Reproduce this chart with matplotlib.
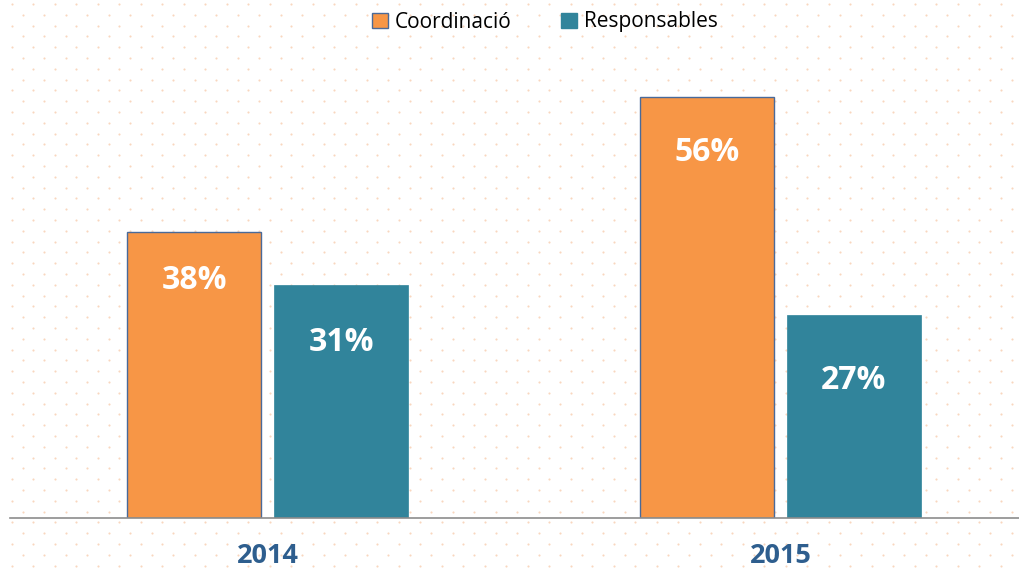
import matplotlib
matplotlib.use("Agg")
import matplotlib.pyplot as plt
import numpy as np
from matplotlib.patches import Patch

years = ["2014", "2015"]
series_names = ["Coordinació", "Responsables"]
coordinacio = [38, 56]
responsables = [31, 27]

# label offsets below bar top, in pixels (layout only)
coord_label_px = [48, 55]
resp_label_px = [58, 65]

W, H = 1019, 572
fig = plt.figure(figsize=(W / 100, H / 100), dpi=100)
fig.patch.set_facecolor("white")

# dotted background pattern
bg = fig.add_axes([0, 0, 1, 1], zorder=0)
bg.set_xlim(0, W)
bg.set_ylim(H, 0)
bg.axis("off")
xs, ys = [], []
dy = 10.8
dx = 21.5
row = 0
y = 4.0
while y < H:
    off = 0 if row % 2 == 0 else dx / 2
    x = 12 + off
    while x < W:
        xs.append(x)
        ys.append(y)
        x += dx
    y += dy
    row += 1
bg.scatter(xs, ys, s=2.4, color="#F9D6BE", linewidths=0)

ax = fig.add_axes([10 / W, 54 / H, (W - 10) / W, 451 / H], zorder=1)
ax.patch.set_alpha(0)
x = np.arange(len(years))
bw = 0.261
off = 0.1433
b1 = ax.bar(x - off, coordinacio, bw, color="#F79646", edgecolor="#4A6A99", linewidth=1.0,
            label=series_names[0])
b2 = ax.bar(x + off, responsables, bw, color="#31849B", edgecolor="#31849B", linewidth=0.5,
            label=series_names[1])

ax.set_xlim(-0.502, 1.465)
ax.set_ylim(0, 60)
px_per_unit = 451 / 60
for s in ["top", "right", "left"]:
    ax.spines[s].set_visible(False)
ax.spines["bottom"].set_color("#8C8C8C")
ax.spines["bottom"].set_linewidth(1.2)
ax.set_yticks([])
ax.set_xticks(x)
ax.set_xticklabels(years, fontsize=19.5, fontweight="bold", color="#2E5E8E", family="Open Sans")
ax.tick_params(axis="x", length=0, pad=18)

for bars, vals, offs in ((b1, coordinacio, coord_label_px), (b2, responsables, resp_label_px)):
    for r, v, o in zip(bars, vals, offs):
        ax.text(r.get_x() + r.get_width() / 2, v - o / px_per_unit, f"{v}%", ha="center",
                va="center", color="white", fontsize=23, fontweight="bold", family="Open Sans")

handles = [Patch(facecolor="#F79646", edgecolor="#4A6A99", linewidth=1.0),
           Patch(facecolor="#31849B", edgecolor="#31849B")]
fig.legend(handles, series_names, loc="center", bbox_to_anchor=(545 / W, 1 - 22 / H),
           ncol=2, frameon=False, handlelength=0.75, handleheight=0.75,
           handletextpad=0.35, columnspacing=2.35, prop={"family": "Open Sans", "size": 15})

fig.savefig("out.png", dpi=100)
